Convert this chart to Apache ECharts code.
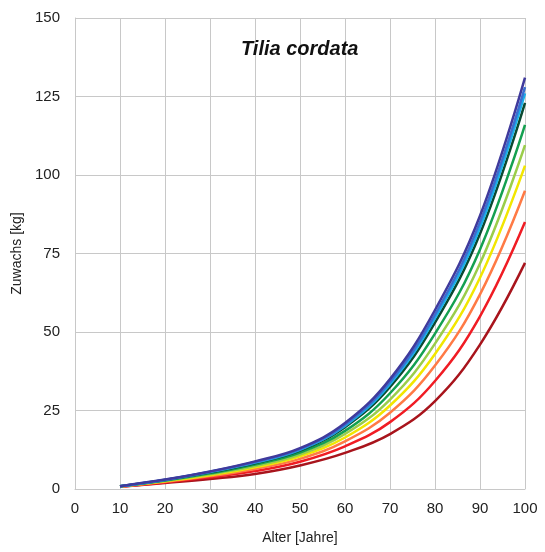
<!DOCTYPE html>
<html style="height: 100%">
<head>
    <meta charset="utf-8">
</head>
<body style="height: 100%; margin: 0; background: #fff">
    <div id="container" style="width: 545px; height: 552px"></div>
    <script src="https://cdn.jsdelivr.net/npm/echarts@6/dist/echarts.min.js"></script>
    <script type="text/javascript">
        // Alter [Jahre]
        var alter = [10, 20, 30, 40, 50, 60, 70, 80, 90, 100];

        // Zuwachs [kg], one curve per colour (top to bottom at age 100)
        var purple    = [0.9, 3.0, 5.6, 8.8, 13.0, 21.0, 35.0, 57.0, 87.0, 131];
        var blue      = [0.9, 2.95, 5.5, 8.6, 12.7, 20.5, 34.1, 55.5, 85.0, 128];
        var cyan      = [0.88, 2.9, 5.4, 8.4, 12.5, 20.1, 33.4, 54.4, 83.3, 126];
        var darkGreen = [0.87, 2.85, 5.3, 8.2, 12.2, 19.7, 32.5, 53.0, 81.3, 123];
        var green     = [0.85, 2.7, 5.0, 7.8, 11.6, 18.5, 30.5, 49.5, 76.3, 116];
        var lightGreen= [0.83, 2.6, 4.7, 7.3, 11.0, 17.5, 28.5, 46.3, 71.8, 109.5];
        var yellow    = [0.8, 2.5, 4.4, 6.9, 10.4, 16.4, 26.6, 43.0, 67.3, 103];
        var orange    = [0.78, 2.3, 4.1, 6.4, 9.6, 15.2, 24.3, 39.3, 62.0, 95];
        var red       = [0.75, 2.1, 3.7, 5.7, 8.7, 13.6, 21.3, 34.4, 55.0, 85];
        var darkRed   = [0.7, 1.9, 3.2, 4.8, 7.5, 11.5, 17.5, 28.0, 46.0, 72];

        var curves = [darkRed, red, orange, yellow, lightGreen, green, darkGreen, cyan, blue, purple];
        var colors = ['#a8141c', '#f01c24', '#ff7a45', '#f2e600', '#9acd4a', '#14a050', '#0a4a30', '#1ab0e8', '#3a6fd0', '#403a9c'];

        var dom = document.getElementById("container");
        var myChart = echarts.init(dom);

        var series = curves.map(function (vals, i) {
            return {
                type: 'line',
                smooth: 0.4,
                showSymbol: false,
                data: alter.map(function (a, j) { return [a, vals[j]]; }),
                lineStyle: { color: colors[i], width: 2.5 },
                itemStyle: { color: colors[i] }
            };
        });

        var option = {
            animation: false,
            title: {
                text: 'Tilia cordata',
                left: 236,
                top: 34,
                textStyle: {
                    fontFamily: 'Liberation Sans',
                    fontSize: 20,
                    fontWeight: 'bold',
                    fontStyle: 'italic',
                    color: '#111'
                }
            },
            grid: { left: 75, right: 20, top: 18, bottom: 63 },
            xAxis: {
                type: 'value',
                min: 0,
                max: 100,
                interval: 10,
                name: 'Alter [Jahre]',
                nameLocation: 'middle',
                nameGap: 42,
                nameTextStyle: { fontFamily: 'Liberation Sans', fontSize: 14, color: '#222' },
                axisLine: { lineStyle: { color: '#c8c8c8' } },
                axisTick: { show: false },
                axisLabel: { margin: 12, fontFamily: 'Liberation Sans', fontSize: 15, color: '#222' },
                splitLine: { show: true, lineStyle: { color: '#c8c8c8', width: 1 } }
            },
            yAxis: {
                type: 'value',
                min: 0,
                max: 150,
                interval: 25,
                name: 'Zuwachs [kg]',
                nameLocation: 'middle',
                nameGap: 45,
                nameTextStyle: { fontFamily: 'Liberation Sans', fontSize: 14, color: '#222' },
                axisLine: { show: true, lineStyle: { color: '#c8c8c8' } },
                axisTick: { show: false },
                axisLabel: { margin: 15, fontFamily: 'Liberation Sans', fontSize: 15, color: '#222' },
                splitLine: { show: true, lineStyle: { color: '#c8c8c8', width: 1 } }
            },
            series: series
        };

        myChart.setOption(option);
    </script>
</body>
</html>
